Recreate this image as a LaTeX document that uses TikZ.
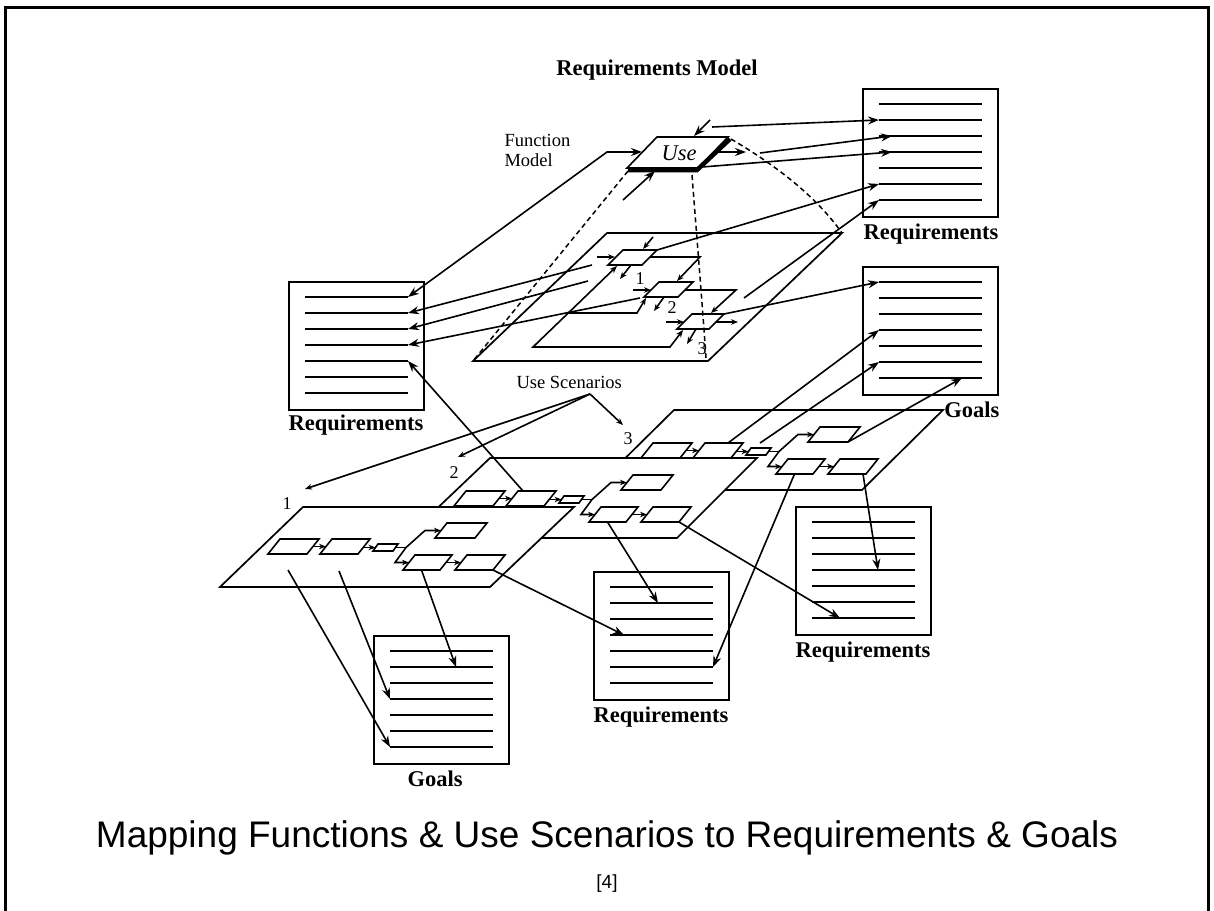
\documentclass[tikz,border=0pt]{standalone}
\usepackage{fontspec}
\setmainfont{Liberation Serif}
\newfontfamily\capsans{Liberation Sans}
\usetikzlibrary{arrows.meta,calc}

% slanted (perspective) box: name, x, y, top width, height, skew
\newcommand\slantbox[6]{%
  \draw[fbox] (#2,#3) coordinate (#1-tl) -- ++(#4,0) coordinate (#1-tr)
    -- ++(-#6,#5) coordinate (#1-br) -- ++(-#4,0) coordinate (#1-bl) -- cycle;}

% document sheet with seven ruled lines: name, x, y of top-left corner
\newcommand\docsheet[3]{%
  \node[sheet,anchor=north west] (#1) at (#2,#3) {};
  \foreach \i in {1,...,7}{%
    \draw[rule] (#2+16,#3-1+16*\i) coordinate (#1-\i) -- (#2+119,#3-1+16*\i) coordinate (#1-r\i);}}

% one use scenario: a chain of activities with a branch
\newcommand\scenario[3]{%
  \begin{scope}[shift={(#2,#3)}]
    \slantbox{#1a}{0}{0}{39}{15}{12}
    \slantbox{#1b}{52}{0}{38}{15}{12}
    \slantbox{#1s}{98}{5}{20}{7}{5}
    \slantbox{#1c}{167}{-16}{40}{15}{12}
    \slantbox{#1d}{135}{16}{37}{15}{12}
    \slantbox{#1e}{187}{16}{38}{15}{12}
    \draw[sconn] (33,7.5) -- (46,7.5);
    \draw[sconn] (84,8.5) -- (95.5,8.5);
    \draw[wire] (115.5,8.5) -- (126,8.5);
    \draw[sconn] (126,8.5) -- (145,-8.5) -- (161,-8.5);
    \draw[sconn] (126,8.5) -- (115,23.5) -- (129,23.5);
    \draw[sconn] (166,23.5) -- (181,23.5);
  \end{scope}}

\begin{document}
\begin{tikzpicture}[x=1pt,y=-1pt,line join=miter,
  wire/.style={line width=1.6pt},
  conn/.style={wire,-{Stealth[length=11pt,width=8pt]}},
  biconn/.style={wire,{Stealth[length=11pt,width=8pt]}-{Stealth[length=11pt,width=8pt]}},
  sconn/.style={wire,-{Stealth[length=7pt,width=5.5pt]}},
  biconnsm/.style={wire,{Stealth[length=7.5pt,width=6pt]}-{Stealth[length=7.5pt,width=6pt]}},
  proj/.style={line width=1.5pt,dash pattern=on 5pt off 3.5pt},
  plane/.style={line width=1.7pt,fill=white},
  fbox/.style={line width=1.6pt,fill=white},
  sheet/.style={draw,line width=2pt,minimum width=135pt,minimum height=128pt,inner sep=0pt,outer sep=0pt},
  rule/.style={line width=1.6pt},
  boldlabel/.style={font=\bfseries\fontsize{22.5}{27}\selectfont,anchor=base},
  smalllabel/.style={font=\fontsize{18.5}{22}\selectfont,anchor=base west},
  numlabel/.style={font=\fontsize{18}{21}\selectfont},
]
\useasboundingbox (0,0) rectangle (1214,910);

% outer frame
\draw[line width=3pt] (5,912) coordinate (fr-bl) -- (5,7) coordinate (fr-tl)
  -- (1208,7) coordinate (fr-tr) -- (1208,912) coordinate (fr-br);

% headings
\node[boldlabel] (title) at (657,75) {Requirements Model};
\node[smalllabel] (fm1) at (501,146) {Function};
\node[smalllabel] (fm2) at (501,166) {Model};

% ---------- decomposition of the Use function ----------
\draw[plane] (607,233) coordinate (mp-tl) -- (842,233) coordinate (mp-tr)
  -- (708,361) coordinate (mp-br) -- (473,361) coordinate (mp-bl) -- cycle;
\slantbox{fa}{623}{250}{34}{15}{15}
\slantbox{fb}{659}{282}{34}{15}{15}
\slantbox{fc}{692}{314}{32}{15}{15}
\draw[sconn] (653,237) -- (643,249);
\draw[sconn] (597,257) -- (615,257);
\draw[sconn] (650,257) -- (700,257) -- (677,281);
\draw[sconn] (631,265) -- (620,279);
\draw[sconn] (633,290) -- (651,290);
\draw[sconn] (685,290) -- (736,290) -- (711,313);
\draw[sconn] (664,297) -- (654,311);
\draw[sconn] (666,322) -- (684,322);
\draw[sconn] (716,322) -- (738,322);
\draw[sconn] (696,329) -- (687,344);
\draw[biconnsm] (617,266) -- (533,347) coordinate (mk1) -- (670,347) coordinate (mk2) -- (683,330);
\draw[sconn] (568,313) -- (637,313) -- (646,298);
\node[numlabel] (n1) at (640,279) {1};
\node[numlabel] (n2) at (672,308) {2};
\node[numlabel] (n3) at (702,349) {3};

% ---------- the Use function ----------
\slantbox{use}{657}{137}{71}{31}{30}
\draw[line width=4.5pt] (628,170) -- (697,170) -- (730,139);
\node[font=\itshape\fontsize{22.5}{26}\selectfont,anchor=base west] (usetext) at (658,160) {Use};

% projection of the function onto its decomposition
\draw[proj] (628,171) -- (mp-bl);
\draw[proj] (692,175) .. controls (697,240) and (702,300) .. (706,358);
\draw[proj] (731,139) .. controls (775,165) and (815,195) .. (mp-tr);

% ---------- documents ----------
\docsheet{R1}{863}{89}
\docsheet{G1}{863}{267}
\docsheet{R2}{289}{282}
\docsheet{R3}{796}{507}
\docsheet{R4}{594}{572}
\docsheet{G2}{374}{636}
\node[boldlabel] (R1-lab) at (931,239) {Requirements};
\node[boldlabel,anchor=base east] (G1-lab) at (1003,417) {Goals};
\node[boldlabel] (R2-lab) at (356,430) {Requirements};
\node[boldlabel] (R3-lab) at (863,657) {Requirements};
\node[boldlabel] (R4-lab) at (661,722) {Requirements};
\node[boldlabel] (G2-lab) at (435,786) {Goals};

% ---------- use scenarios ----------
\draw[plane] (674,410) coordinate (s3-tl) -- (943,410) coordinate (s3-tr)
  -- (862,490) coordinate (s3-br) -- (593,490) coordinate (s3-bl) -- cycle;
\scenario{t}{653}{443}
\draw[plane] (490,458) coordinate (s2-tl) -- (757,458) coordinate (s2-tr)
  -- (677,538) coordinate (s2-br) -- (406,538) coordinate (s2-bl) -- cycle;
\scenario{u}{466}{491}
\draw[plane] (303,507) coordinate (s1-tl) -- (574,507) coordinate (s1-tr)
  -- (490,587) coordinate (s1-br) -- (220,587) coordinate (s1-bl) -- cycle;
\scenario{v}{280}{539}

\node[numlabel] (sl1) at (287,504) {1};
\node[numlabel] (sl2) at (454,473) {2};
\node[numlabel] (sl3) at (628,439) {3};
\node[smalllabel] (uslabel) at (513,388) {Use Scenarios};
\coordinate (usfork) at (590,394);
\coordinate (to1) at (305,489);
\coordinate (to2) at (458,457);
\coordinate (to3) at (623,425);
\draw[sconn] (usfork) -- (to1);
\draw[sconn] (usfork) -- (to2);
\draw[sconn] (usfork) -- (to3);

% ---------- connectors to the documents ----------
% Use function
\coordinate (ctl) at (710,120);
\draw[conn] (ctl) -- (694,136);
\coordinate (inknee) at (607,152);
\draw[biconn] (R2-r1) -- (inknee) -- (642,152);
\coordinate (mech) at (623,200);
\draw[conn] (mech) -- (655,171);
\draw[conn] (713,152) -- (746,152);
\coordinate (q1) at (712,127);
\draw[conn] (q1) -- (R1-2);
\coordinate (q2) at (760,153);
\draw[conn] (q2) -- ($(R1-3)+(13,0)$);
\coordinate (q3) at (702,167);
\draw[conn] (q3) -- ($(R1-4)+(13,0)$);

% decomposition
\draw[conn] (fa-tr) -- (R1-6);
\coordinate (q4) at (744,298);
\draw[conn] (q4) -- (R1-7);
\draw[conn] (fc-tr) -- (G1-1);
\coordinate (q5) at (592,265);
\coordinate (q6) at (588,281);
\coordinate (q7) at (640,298);
\draw[conn] (q5) -- (R2-r2);
\draw[conn] (q6) -- (R2-r3);
\draw[conn] (q7) -- (R2-r4);

% scenarios
\coordinate (q8) at (523,491);
\draw[conn] (q8) -- (R2-r5);
\coordinate (q9) at (728,443);
\coordinate (q10) at (760,443);
\draw[conn] (q9) -- (G1-4);
\draw[conn] (q10) -- (G1-6);
\draw[conn] (tc-br) -- ($(G1-7)+(83,0)$);
\draw[conn] ($(te-br)+(-3,0)$) -- ($(R3-4)+(66,0)$);
\draw[conn] ($(td-bl)!0.5!(td-br)$) -- (R4-r6);
\draw[conn] (ue-br) -- ($(R3-7)+(28,0)$);
\draw[conn] ($(ud-bl)!0.5!(ud-br)$) -- ($(R4-2)+(48,0)$);
\draw[conn] (ve-br) -- ($(R4-4)+(14,0)$);
\draw[conn] ($(vd-bl)!0.5!(vd-br)$) -- ($(G2-2)+(66,0)$);
\coordinate (q11) at (339,571);
\coordinate (q12) at (288,570);
\draw[conn] (q11) -- (G2-4);
\draw[conn] (q12) -- (G2-7);

% caption
\node[font=\capsans\fontsize{37}{44}\selectfont,anchor=base] (caption) at (607,847)
  {Mapping Functions \& Use Scenarios to Requirements \& Goals};
\node[font=\capsans\fontsize{19}{22}\selectfont,anchor=base] (ref) at (607,888) {[4]};
\end{tikzpicture}
\end{document}
